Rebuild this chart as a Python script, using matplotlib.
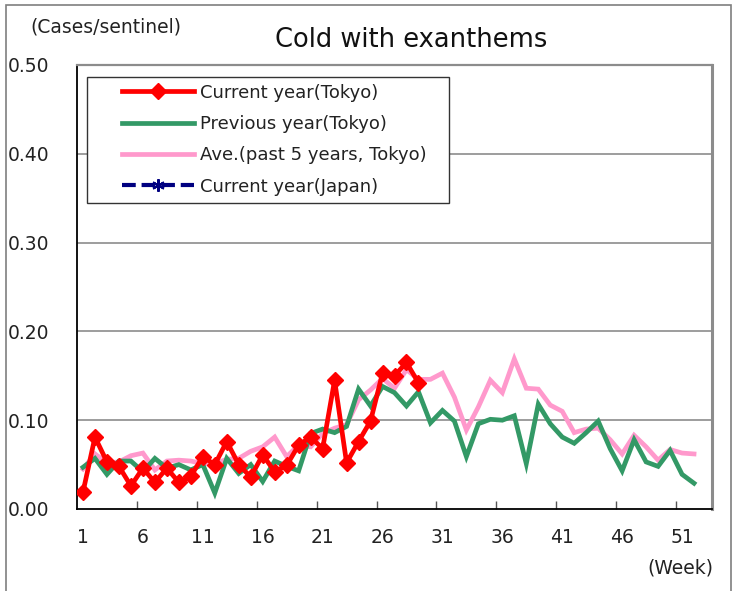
import numpy as np
import matplotlib
matplotlib.use("Agg")
import matplotlib.pyplot as plt
from matplotlib.patches import Rectangle

plt.rcParams['font.family'] = ['DejaVu Sans']

title = "Cold with exanthems"
weeks = list(range(1, 54))
tick_weeks = [1, 6, 11, 16, 21, 26, 31, 36, 41, 46, 51]
y_ticks = [0.0, 0.1, 0.2, 0.3, 0.4, 0.5]

current_tokyo = [0.019, 0.081, 0.053, 0.048, 0.026, 0.046, 0.030, 0.046, 0.030, 0.037,
                 0.059, 0.050, 0.076, 0.050, 0.036, 0.061, 0.042, 0.049, 0.072, 0.081,
                 0.068, 0.145, 0.052, 0.076, 0.099, 0.153, 0.150, 0.165, 0.142]

previous_tokyo = [0.047, 0.057, 0.039, 0.054, 0.054, 0.042, 0.057, 0.046, 0.050, 0.044,
                  0.050, 0.018, 0.057, 0.040, 0.050, 0.031, 0.054, 0.048, 0.043, 0.085,
                  0.090, 0.086, 0.093, 0.135, 0.116, 0.138, 0.131, 0.116, 0.132, 0.097,
                  0.111, 0.099, 0.059, 0.096, 0.101, 0.100, 0.105, 0.051, 0.118, 0.096,
                  0.081, 0.074, 0.086, 0.099, 0.068, 0.043, 0.078, 0.053, 0.048, 0.066,
                  0.039, 0.029]

avg_5yr = [0.045, 0.062, 0.052, 0.053, 0.060, 0.063, 0.044, 0.054, 0.055, 0.054,
           0.051, 0.051, 0.056, 0.057, 0.065, 0.070, 0.081, 0.059, 0.072, 0.070,
           0.085, 0.091, 0.095, 0.123, 0.134, 0.147, 0.136, 0.157, 0.146, 0.146,
           0.153, 0.126, 0.089, 0.115, 0.145, 0.131, 0.169, 0.136, 0.135, 0.117,
           0.110, 0.086, 0.090, 0.091, 0.078, 0.062, 0.083, 0.070, 0.055, 0.067,
           0.063, 0.062]

current_japan = []  # no data shown, legend only

fig = plt.figure(figsize=(7.32, 5.91), dpi=100)
W, H = 732, 591

# outer chart border
fig.patches.append(Rectangle((6 / W, -0.01), (731 - 6) / W, 1 - 5 / H + 0.01,
                             transform=fig.transFigure, fill=False,
                             edgecolor="#7f7f7f", linewidth=1.2))

ax = fig.add_axes([77 / W, 1 - 509 / H, (712 - 77) / W, (509 - 65) / H])

ax.plot(range(1, len(avg_5yr) + 1), avg_5yr, color="#ff99cc", lw=3.4,
        solid_joinstyle="miter", label="Ave.(past 5 years, Tokyo)", zorder=3)
ax.plot(range(1, len(previous_tokyo) + 1), previous_tokyo, color="#339966", lw=3.4,
        solid_joinstyle="miter", label="Previous year(Tokyo)", zorder=4)
ax.plot(range(1, len(current_tokyo) + 1), current_tokyo, color="#ff0000", lw=3.4,
        marker="D", ms=8, mec="#ff0000", mfc="#ff0000",
        label="Current year(Tokyo)", zorder=5)
ax.plot(range(1, len(current_japan) + 1), current_japan, color="#000080", lw=3,
        dashes=(3.3, 1.4), marker=(6, 2, 0), ms=9, mew=1.5,
        label="Current year(Japan)", zorder=6)

ax.set_xlim(0.5, 53.5)
ax.set_ylim(0, 0.5)

ax.set_xticks(tick_weeks)
ax.set_xticklabels([str(w) for w in tick_weeks])
ax.set_xticks([w + 0.5 for w in range(5, 53, 5)], minor=True)
ax.tick_params(axis="x", which="major", length=0, pad=14, labelsize=13.5,
               colors="#222222")
ax.tick_params(axis="x", which="minor", length=6, width=1, direction="in",
               color="#555555")

ax.set_yticks(y_ticks)
ax.set_yticklabels([f"{v:.2f}" for v in y_ticks])
ax.tick_params(axis="y", length=0, pad=20, labelsize=13.5, colors="#222222")

for v in y_ticks[1:-1]:
    ax.axhline(v, color="#8c8c8c", lw=1.2, zorder=1)

ax.spines["left"].set_color("black")
ax.spines["left"].set_linewidth(1.3)
ax.spines["bottom"].set_color("black")
ax.spines["bottom"].set_linewidth(1.3)
ax.spines["top"].set_color("#8c8c8c")
ax.spines["top"].set_linewidth(1.6)
ax.spines["right"].set_color("#8c8c8c")
ax.spines["right"].set_linewidth(2.2)

# legend frame drawn separately (it has a wide left margin)
ax.add_patch(Rectangle(((87 - 77) / 635, 1 - (203 - 65) / 444), 362 / 635, 126 / 444,
                       transform=ax.transAxes, fill=True, facecolor="white",
                       edgecolor="#333333", linewidth=1.0, zorder=7))
handles, labels = ax.get_legend_handles_labels()
order = [2, 1, 0, 3]
leg = ax.legend([handles[i] for i in order], [labels[i] for i in order],
                loc="upper left", bbox_to_anchor=((118 - 77) / 635, 1 - (80 - 65) / 444),
                borderaxespad=0, borderpad=0.2, frameon=False, fontsize=13,
                handlelength=4.0, handletextpad=0.35, labelspacing=0.74)
leg.set_zorder(8)
for t in leg.get_texts():
    t.set_color("#222222")

fig.text(30 / W, 1 - 27 / H, "(Cases/sentinel)", fontsize=13.5, color="#222222",
         ha="left", va="center")
fig.text(411 / W, 1 - 40 / H, title, fontsize=18.5, color="#111111",
         ha="center", va="center")
fig.text(713 / W, 1 - 568 / H, "(Week)", fontsize=13.5, color="#222222",
         ha="right", va="center")

fig.savefig("out.png", dpi=100)
